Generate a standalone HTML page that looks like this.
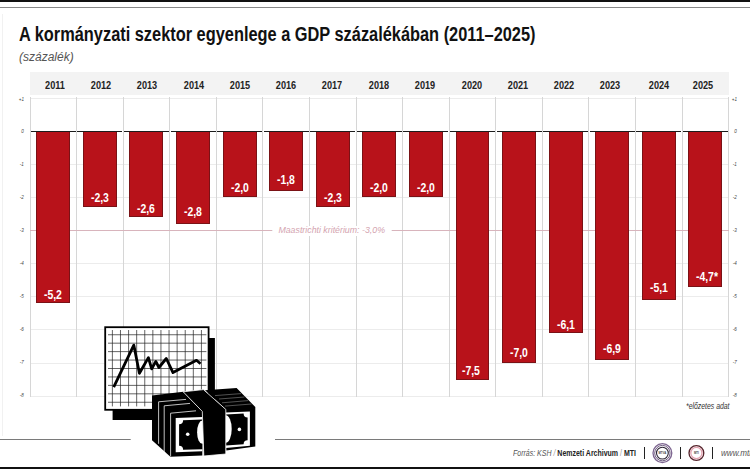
<!DOCTYPE html>
<html><head><meta charset="utf-8"><style>
*{margin:0;padding:0;box-sizing:border-box}
html,body{width:750px;height:469px;overflow:hidden;background:#fff}
body{position:relative;font-family:"Liberation Sans",sans-serif}
.a{position:absolute}
.t{position:absolute;white-space:nowrap;line-height:1}
</style></head><body>

<div class="a" style="left:0;top:0;width:750px;height:1.6px;background:#111"></div>
<div class="a" style="left:0;top:6.6px;width:750px;height:1.2px;background:#888"></div>
<div class="a" style="left:2px;top:14px;width:1px;height:422px;background:#f1f1f1"></div>
<div class="t" style="left:18.8px;top:24.4px;font-weight:bold;font-size:20px;color:#111;transform:scaleX(0.818);transform-origin:0 0">A kormányzati szektor egyenlege a GDP százalékában (2011–2025)</div>
<div class="t" style="left:19.0px;top:50.5px;font-style:italic;font-size:12px;color:#555;transform:scaleX(1.0);transform-origin:0 0">(százalék)</div>
<div class="a" style="left:30.0px;top:72.4px;width:698.6999999999999px;height:22.2px;background:#f3f3f3"></div>
<div class="t" style="left:34.70px;top:79.89px;width:40px;text-align:center;font-weight:bold;font-size:11px;color:#222;transform:scaleX(0.83)">2011</div>
<div class="t" style="left:81.00px;top:79.89px;width:40px;text-align:center;font-weight:bold;font-size:11px;color:#222;transform:scaleX(0.83)">2012</div>
<div class="t" style="left:127.00px;top:79.89px;width:40px;text-align:center;font-weight:bold;font-size:11px;color:#222;transform:scaleX(0.83)">2013</div>
<div class="t" style="left:173.50px;top:79.89px;width:40px;text-align:center;font-weight:bold;font-size:11px;color:#222;transform:scaleX(0.83)">2014</div>
<div class="t" style="left:219.90px;top:79.89px;width:40px;text-align:center;font-weight:bold;font-size:11px;color:#222;transform:scaleX(0.83)">2015</div>
<div class="t" style="left:266.00px;top:79.89px;width:40px;text-align:center;font-weight:bold;font-size:11px;color:#222;transform:scaleX(0.83)">2016</div>
<div class="t" style="left:312.40px;top:79.89px;width:40px;text-align:center;font-weight:bold;font-size:11px;color:#222;transform:scaleX(0.83)">2017</div>
<div class="t" style="left:359.10px;top:79.89px;width:40px;text-align:center;font-weight:bold;font-size:11px;color:#222;transform:scaleX(0.83)">2018</div>
<div class="t" style="left:404.80px;top:79.89px;width:40px;text-align:center;font-weight:bold;font-size:11px;color:#222;transform:scaleX(0.83)">2019</div>
<div class="t" style="left:451.50px;top:79.89px;width:40px;text-align:center;font-weight:bold;font-size:11px;color:#222;transform:scaleX(0.83)">2020</div>
<div class="t" style="left:497.70px;top:79.89px;width:40px;text-align:center;font-weight:bold;font-size:11px;color:#222;transform:scaleX(0.83)">2021</div>
<div class="t" style="left:543.90px;top:79.89px;width:40px;text-align:center;font-weight:bold;font-size:11px;color:#222;transform:scaleX(0.83)">2022</div>
<div class="t" style="left:590.10px;top:79.89px;width:40px;text-align:center;font-weight:bold;font-size:11px;color:#222;transform:scaleX(0.83)">2023</div>
<div class="t" style="left:638.60px;top:79.89px;width:40px;text-align:center;font-weight:bold;font-size:11px;color:#222;transform:scaleX(0.83)">2024</div>
<div class="t" style="left:682.50px;top:79.89px;width:40px;text-align:center;font-weight:bold;font-size:11px;color:#222;transform:scaleX(0.83)">2025</div>
<div class="a" style="left:30.0px;top:395.60px;width:698.6999999999999px;height:1px;background:#ececec"></div>
<div class="a" style="left:30.0px;top:362.50px;width:698.6999999999999px;height:1px;background:#ececec"></div>
<div class="a" style="left:30.0px;top:329.40px;width:698.6999999999999px;height:1px;background:#ececec"></div>
<div class="a" style="left:30.0px;top:296.30px;width:698.6999999999999px;height:1px;background:#ececec"></div>
<div class="a" style="left:30.0px;top:263.20px;width:698.6999999999999px;height:1px;background:#ececec"></div>
<div class="a" style="left:30.0px;top:230.10px;width:698.6999999999999px;height:1px;background:#ececec"></div>
<div class="a" style="left:30.0px;top:197.00px;width:698.6999999999999px;height:1px;background:#ececec"></div>
<div class="a" style="left:30.0px;top:163.90px;width:698.6999999999999px;height:1px;background:#ececec"></div>
<div class="a" style="left:30.0px;top:97.70px;width:698.6999999999999px;height:1px;background:#ececec"></div>
<div class="a" style="left:29.50px;top:97.3px;width:1px;height:299.30px;background:#d6d6d6"></div>
<div class="a" style="left:76.08px;top:97.3px;width:1px;height:299.30px;background:#d6d6d6"></div>
<div class="a" style="left:122.66px;top:97.3px;width:1px;height:299.30px;background:#d6d6d6"></div>
<div class="a" style="left:169.24px;top:97.3px;width:1px;height:299.30px;background:#d6d6d6"></div>
<div class="a" style="left:215.82px;top:97.3px;width:1px;height:299.30px;background:#d6d6d6"></div>
<div class="a" style="left:262.40px;top:97.3px;width:1px;height:299.30px;background:#d6d6d6"></div>
<div class="a" style="left:308.98px;top:97.3px;width:1px;height:299.30px;background:#d6d6d6"></div>
<div class="a" style="left:355.56px;top:97.3px;width:1px;height:299.30px;background:#d6d6d6"></div>
<div class="a" style="left:402.14px;top:97.3px;width:1px;height:299.30px;background:#d6d6d6"></div>
<div class="a" style="left:448.72px;top:97.3px;width:1px;height:299.30px;background:#d6d6d6"></div>
<div class="a" style="left:495.30px;top:97.3px;width:1px;height:299.30px;background:#d6d6d6"></div>
<div class="a" style="left:541.88px;top:97.3px;width:1px;height:299.30px;background:#d6d6d6"></div>
<div class="a" style="left:588.46px;top:97.3px;width:1px;height:299.30px;background:#d6d6d6"></div>
<div class="a" style="left:635.04px;top:97.3px;width:1px;height:299.30px;background:#d6d6d6"></div>
<div class="a" style="left:681.62px;top:97.3px;width:1px;height:299.30px;background:#d6d6d6"></div>
<div class="a" style="left:728.20px;top:97.3px;width:1px;height:299.30px;background:#d6d6d6"></div>
<div class="a" style="left:30.0px;top:230.10px;width:242.0px;height:1px;background:#d8b4bc"></div>
<div class="a" style="left:391.6px;top:230.10px;width:337.10px;height:1px;background:#d8b4bc"></div>
<div class="a" style="left:273px;top:225.60px;width:118px;height:10px;background:#fff"></div>
<div class="t" style="left:278.4px;top:225.90px;font-style:italic;font-size:8.8px;color:#d4a4b0">Maastrichti kritérium: -3,0%</div>
<div class="a" style="left:36.30px;top:131.30px;width:33.9px;height:172.12px;background:#b8121a;border:1px solid #7a1216;border-top:0"></div>
<div class="t" style="left:36.30px;top:289.04px;width:33.9px;text-align:center;font-weight:bold;font-size:12px;color:#fff;transform:scaleX(0.87)">-5,2</div>
<div class="a" style="left:82.88px;top:131.30px;width:33.9px;height:76.13px;background:#b8121a;border:1px solid #7a1216;border-top:0"></div>
<div class="t" style="left:82.88px;top:192.24px;width:33.9px;text-align:center;font-weight:bold;font-size:12px;color:#fff;transform:scaleX(0.87)">-2,3</div>
<div class="a" style="left:129.46px;top:131.30px;width:33.9px;height:86.06px;background:#b8121a;border:1px solid #7a1216;border-top:0"></div>
<div class="t" style="left:129.46px;top:202.54px;width:33.9px;text-align:center;font-weight:bold;font-size:12px;color:#fff;transform:scaleX(0.87)">-2,6</div>
<div class="a" style="left:176.04px;top:131.30px;width:33.9px;height:92.68px;background:#b8121a;border:1px solid #7a1216;border-top:0"></div>
<div class="t" style="left:176.04px;top:206.04px;width:33.9px;text-align:center;font-weight:bold;font-size:12px;color:#fff;transform:scaleX(0.87)">-2,8</div>
<div class="a" style="left:222.62px;top:131.30px;width:33.9px;height:66.20px;background:#b8121a;border:1px solid #7a1216;border-top:0"></div>
<div class="t" style="left:222.62px;top:181.74px;width:33.9px;text-align:center;font-weight:bold;font-size:12px;color:#fff;transform:scaleX(0.87)">-2,0</div>
<div class="a" style="left:269.20px;top:131.30px;width:33.9px;height:59.58px;background:#b8121a;border:1px solid #7a1216;border-top:0"></div>
<div class="t" style="left:269.20px;top:174.14px;width:33.9px;text-align:center;font-weight:bold;font-size:12px;color:#fff;transform:scaleX(0.87)">-1,8</div>
<div class="a" style="left:315.78px;top:131.30px;width:33.9px;height:76.13px;background:#b8121a;border:1px solid #7a1216;border-top:0"></div>
<div class="t" style="left:315.78px;top:191.84px;width:33.9px;text-align:center;font-weight:bold;font-size:12px;color:#fff;transform:scaleX(0.87)">-2,3</div>
<div class="a" style="left:362.36px;top:131.30px;width:33.9px;height:66.20px;background:#b8121a;border:1px solid #7a1216;border-top:0"></div>
<div class="t" style="left:362.36px;top:181.64px;width:33.9px;text-align:center;font-weight:bold;font-size:12px;color:#fff;transform:scaleX(0.87)">-2,0</div>
<div class="a" style="left:408.94px;top:131.30px;width:33.9px;height:66.20px;background:#b8121a;border:1px solid #7a1216;border-top:0"></div>
<div class="t" style="left:408.94px;top:181.64px;width:33.9px;text-align:center;font-weight:bold;font-size:12px;color:#fff;transform:scaleX(0.87)">-2,0</div>
<div class="a" style="left:455.52px;top:131.30px;width:33.9px;height:248.25px;background:#b8121a;border:1px solid #7a1216;border-top:0"></div>
<div class="t" style="left:454.02px;top:364.94px;width:33.9px;text-align:center;font-weight:bold;font-size:12px;color:#fff;transform:scaleX(0.87)">-7,5</div>
<div class="a" style="left:502.10px;top:131.30px;width:33.9px;height:231.70px;background:#b8121a;border:1px solid #7a1216;border-top:0"></div>
<div class="t" style="left:502.10px;top:347.14px;width:33.9px;text-align:center;font-weight:bold;font-size:12px;color:#fff;transform:scaleX(0.87)">-7,0</div>
<div class="a" style="left:548.68px;top:131.30px;width:33.9px;height:201.91px;background:#b8121a;border:1px solid #7a1216;border-top:0"></div>
<div class="t" style="left:548.68px;top:318.84px;width:33.9px;text-align:center;font-weight:bold;font-size:12px;color:#fff;transform:scaleX(0.87)">-6,1</div>
<div class="a" style="left:595.26px;top:131.30px;width:33.9px;height:228.39px;background:#b8121a;border:1px solid #7a1216;border-top:0"></div>
<div class="t" style="left:595.26px;top:343.04px;width:33.9px;text-align:center;font-weight:bold;font-size:12px;color:#fff;transform:scaleX(0.87)">-6,9</div>
<div class="a" style="left:641.84px;top:131.30px;width:33.9px;height:168.81px;background:#b8121a;border:1px solid #7a1216;border-top:0"></div>
<div class="t" style="left:641.84px;top:282.24px;width:33.9px;text-align:center;font-weight:bold;font-size:12px;color:#fff;transform:scaleX(0.87)">-5,1</div>
<div class="a" style="left:688.42px;top:131.30px;width:33.9px;height:155.57px;background:#b8121a;border:1px solid #7a1216;border-top:0"></div>
<div class="t" style="left:690.42px;top:270.94px;width:33.9px;text-align:center;font-weight:bold;font-size:12px;color:#fff;transform:scaleX(0.87)">-4,7*</div>
<div class="a" style="left:30.80px;top:130.50px;width:44.98px;height:1.4px;background:#1c1c1c"></div>
<div class="a" style="left:77.38px;top:130.50px;width:44.98px;height:1.4px;background:#1c1c1c"></div>
<div class="a" style="left:123.96px;top:130.50px;width:44.98px;height:1.4px;background:#1c1c1c"></div>
<div class="a" style="left:170.54px;top:130.50px;width:44.98px;height:1.4px;background:#1c1c1c"></div>
<div class="a" style="left:217.12px;top:130.50px;width:44.98px;height:1.4px;background:#1c1c1c"></div>
<div class="a" style="left:263.70px;top:130.50px;width:44.98px;height:1.4px;background:#1c1c1c"></div>
<div class="a" style="left:310.28px;top:130.50px;width:44.98px;height:1.4px;background:#1c1c1c"></div>
<div class="a" style="left:356.86px;top:130.50px;width:44.98px;height:1.4px;background:#1c1c1c"></div>
<div class="a" style="left:403.44px;top:130.50px;width:44.98px;height:1.4px;background:#1c1c1c"></div>
<div class="a" style="left:450.02px;top:130.50px;width:44.98px;height:1.4px;background:#1c1c1c"></div>
<div class="a" style="left:496.60px;top:130.50px;width:44.98px;height:1.4px;background:#1c1c1c"></div>
<div class="a" style="left:543.18px;top:130.50px;width:44.98px;height:1.4px;background:#1c1c1c"></div>
<div class="a" style="left:589.76px;top:130.50px;width:44.98px;height:1.4px;background:#1c1c1c"></div>
<div class="a" style="left:636.34px;top:130.50px;width:44.98px;height:1.4px;background:#1c1c1c"></div>
<div class="a" style="left:682.92px;top:130.50px;width:44.98px;height:1.4px;background:#1c1c1c"></div>
<div class="t" style="left:4px;width:19.9px;text-align:right;top:393.39px;font-style:italic;font-size:5.8px;color:#444;transform:scaleX(0.78);transform-origin:100% 0">-8</div>
<div class="t" style="left:716.6px;width:19.9px;text-align:right;top:393.39px;font-style:italic;font-size:5.8px;color:#444;transform:scaleX(0.78);transform-origin:100% 0">-8</div>
<div class="t" style="left:4px;width:19.9px;text-align:right;top:360.29px;font-style:italic;font-size:5.8px;color:#444;transform:scaleX(0.78);transform-origin:100% 0">-7</div>
<div class="t" style="left:716.6px;width:19.9px;text-align:right;top:360.29px;font-style:italic;font-size:5.8px;color:#444;transform:scaleX(0.78);transform-origin:100% 0">-7</div>
<div class="t" style="left:4px;width:19.9px;text-align:right;top:327.19px;font-style:italic;font-size:5.8px;color:#444;transform:scaleX(0.78);transform-origin:100% 0">-6</div>
<div class="t" style="left:716.6px;width:19.9px;text-align:right;top:327.19px;font-style:italic;font-size:5.8px;color:#444;transform:scaleX(0.78);transform-origin:100% 0">-6</div>
<div class="t" style="left:4px;width:19.9px;text-align:right;top:294.09px;font-style:italic;font-size:5.8px;color:#444;transform:scaleX(0.78);transform-origin:100% 0">-5</div>
<div class="t" style="left:716.6px;width:19.9px;text-align:right;top:294.09px;font-style:italic;font-size:5.8px;color:#444;transform:scaleX(0.78);transform-origin:100% 0">-5</div>
<div class="t" style="left:4px;width:19.9px;text-align:right;top:260.99px;font-style:italic;font-size:5.8px;color:#444;transform:scaleX(0.78);transform-origin:100% 0">-4</div>
<div class="t" style="left:716.6px;width:19.9px;text-align:right;top:260.99px;font-style:italic;font-size:5.8px;color:#444;transform:scaleX(0.78);transform-origin:100% 0">-4</div>
<div class="t" style="left:4px;width:19.9px;text-align:right;top:227.89px;font-style:italic;font-size:5.8px;color:#444;transform:scaleX(0.78);transform-origin:100% 0">-3</div>
<div class="t" style="left:716.6px;width:19.9px;text-align:right;top:227.89px;font-style:italic;font-size:5.8px;color:#444;transform:scaleX(0.78);transform-origin:100% 0">-3</div>
<div class="t" style="left:4px;width:19.9px;text-align:right;top:194.79px;font-style:italic;font-size:5.8px;color:#444;transform:scaleX(0.78);transform-origin:100% 0">-2</div>
<div class="t" style="left:716.6px;width:19.9px;text-align:right;top:194.79px;font-style:italic;font-size:5.8px;color:#444;transform:scaleX(0.78);transform-origin:100% 0">-2</div>
<div class="t" style="left:4px;width:19.9px;text-align:right;top:161.69px;font-style:italic;font-size:5.8px;color:#444;transform:scaleX(0.78);transform-origin:100% 0">-1</div>
<div class="t" style="left:716.6px;width:19.9px;text-align:right;top:161.69px;font-style:italic;font-size:5.8px;color:#444;transform:scaleX(0.78);transform-origin:100% 0">-1</div>
<div class="t" style="left:4px;width:19.9px;text-align:right;top:128.59px;font-style:italic;font-size:5.8px;color:#444;transform:scaleX(0.78);transform-origin:100% 0">0</div>
<div class="t" style="left:716.6px;width:19.9px;text-align:right;top:128.59px;font-style:italic;font-size:5.8px;color:#444;transform:scaleX(0.78);transform-origin:100% 0">0</div>
<div class="t" style="left:4px;width:19.9px;text-align:right;top:96.69px;font-style:italic;font-size:5.8px;color:#444;transform:scaleX(0.78);transform-origin:100% 0">+1</div>
<div class="t" style="left:716.6px;width:19.9px;text-align:right;top:96.69px;font-style:italic;font-size:5.8px;color:#444;transform:scaleX(0.78);transform-origin:100% 0">+1</div>
<div class="t" style="left:685.6px;top:402.1px;font-style:italic;font-size:8.4px;color:#333;transform:scaleX(0.82);transform-origin:0 0">*előzetes adat</div>
<div class="a" style="left:0;top:438.9px;width:130.7px;height:1.3px;background:#7a7a7a"></div>
<div class="a" style="left:274.7px;top:438.9px;width:476px;height:1.3px;background:#7a7a7a"></div>
<div class="a" style="left:0;top:467px;width:750px;height:2px;background:#111"></div>
<div class="t" style="left:513.3px;top:448.74px;font-size:8.7px;color:#222;transform:scaleX(0.805);transform-origin:0 0"><i style="color:#555">Forrás: KSH <span style="color:#999">/</span> </i><b>Nemzeti Archivum</b> <span style="color:#999">/</span> <b>MTI</b></div>
<div class="a" style="left:643.6px;top:446.7px;width:1.6px;height:12.7px;background:#222"></div>
<div class="a" style="left:679.5px;top:446.7px;width:1.6px;height:12.7px;background:#222"></div>
<div class="a" style="left:711.9000000000001px;top:446.7px;width:1.6px;height:12.7px;background:#222"></div>
<svg class="a" style="left:650px;top:441px" width="26" height="26" viewBox="0 0 26 26">
<circle cx="12.4" cy="12.1" r="9.4" fill="none" stroke="#7d6590" stroke-width="1.3"/>
<circle cx="12.4" cy="12.1" r="7.7" fill="none" stroke="#5e4a72" stroke-width="0.9"/>
<circle cx="12.4" cy="12.1" r="5.9" fill="#fff" stroke="#2c2434" stroke-width="1.1"/>
<text x="12.4" y="13.1" font-size="2.8" font-family="Liberation Sans" font-weight="bold" text-anchor="middle" fill="#444">MTVA</text>
</svg>
<svg class="a" style="left:686px;top:443px" width="22" height="22" viewBox="0 0 22 22">
<circle cx="10.4" cy="10" r="7.4" fill="#fff" stroke="#55222a" stroke-width="1.3"/>
<circle cx="10.4" cy="10" r="5.6" fill="#fff" stroke="#e4a2b0" stroke-width="1.3"/>
<text x="10.4" y="11" font-size="2.8" font-family="Liberation Sans" font-weight="bold" text-anchor="middle" fill="#444">MTI</text>
</svg>
<div class="t" style="left:721.4px;top:448.98px;font-style:italic;font-size:9px;color:#555;transform:scaleX(0.9);transform-origin:0 0">www.mti.hu</div>
<svg class="a" style="left:0;top:0" width="750" height="469" viewBox="0 0 750 469">
<rect x="130.7" y="432" width="144" height="12" fill="#fff"/>
<path d="M208.2 337.9H214.9V420H112.6V409.4H208.2Z" fill="#000"/>
<rect x="105.2" y="327.2" width="103.4" height="82.6" fill="#fff" stroke="#000" stroke-width="1.8"/>
<path d="M112.39 330V406.4 M120.48 330V406.4 M128.58 330V406.4 M136.67 330V406.4 M144.76 330V406.4 M152.85 330V406.4 M160.95 330V406.4 M169.04 330V406.4 M177.13 330V406.4 M185.22 330V406.4 M193.32 330V406.4 M201.41 330V406.4 M108 334.74H206.4 M108 343.18H206.4 M108 351.62H206.4 M108 360.06H206.4 M108 368.50H206.4 M108 376.94H206.4 M108 385.38H206.4 M108 393.82H206.4 M108 402.26H206.4" stroke="#222" stroke-width="0.7" fill="none"/>
<polyline points="113.7,387.2 133.8,345.1 139.4,373.3 148.4,357.6 151.7,368.8 155.8,361.4 158.9,367.5 166.3,358.5 173,372.6 196.5,360.3 200.5,363.7" fill="none" stroke="#000" stroke-width="2.8" stroke-linejoin="round" stroke-linecap="butt"/>
<path d="M152 395.4L183.2 391.8L202.3 411.4V455.5L170.4 456.8L152 440.2Z" fill="#000"/>
<path d="M158.6 443.8V401.8L186 399.4M164.2 451.8V405.8L190 403.4M170.6 456.4V413.2L196 410.8" stroke="#fff" stroke-width="0.75" fill="none"/>
<path d="M175.7 418L202.3 417V451.2L175.7 452.2Z" fill="#fff"/>
<path d="M183.1 420.3L202.3 419.4V449.2L183.1 449.8A4 4 0 0 0 179.1 445.8V424.3A4 4 0 0 0 183.1 420.3Z" fill="#000"/>
<ellipse cx="202.3" cy="432.2" rx="5.2" ry="11.6" fill="#fff"/>
<circle cx="187.7" cy="434.2" r="1.8" fill="#fff"/>
<path d="M205 390.2L236.6 387.9L255.3 406.9V446.6L226.2 450.6L225 408.7Z" fill="#000"/>
<path d="M215 395.6L241 393.6M219 399L244.5 397M222 402.8L248 400.6M225 406.1L251.5 404" stroke="#888" stroke-width="0.6" fill="none"/>
<path d="M225.8 412.6L249.9 411.4V445.8L225.8 448Z" fill="#fff"/>
<path d="M225.8 414.4L243.6 413.6A4 4 0 0 0 247.6 417.6V440.3A4 4 0 0 0 243.6 444.3L225.8 445.6Z" fill="#000"/>
<ellipse cx="225.8" cy="429" rx="5.9" ry="13.8" fill="#fff"/>
<circle cx="239.4" cy="429.4" r="1.8" fill="#fff"/>
<path d="M183.2 391.8L203.4 389.6L225.8 409.4V454L203.8 456L202.3 411.4Z" fill="#000" stroke="#fff" stroke-width="0.8" stroke-linejoin="round"/>
</svg>
</body></html>
